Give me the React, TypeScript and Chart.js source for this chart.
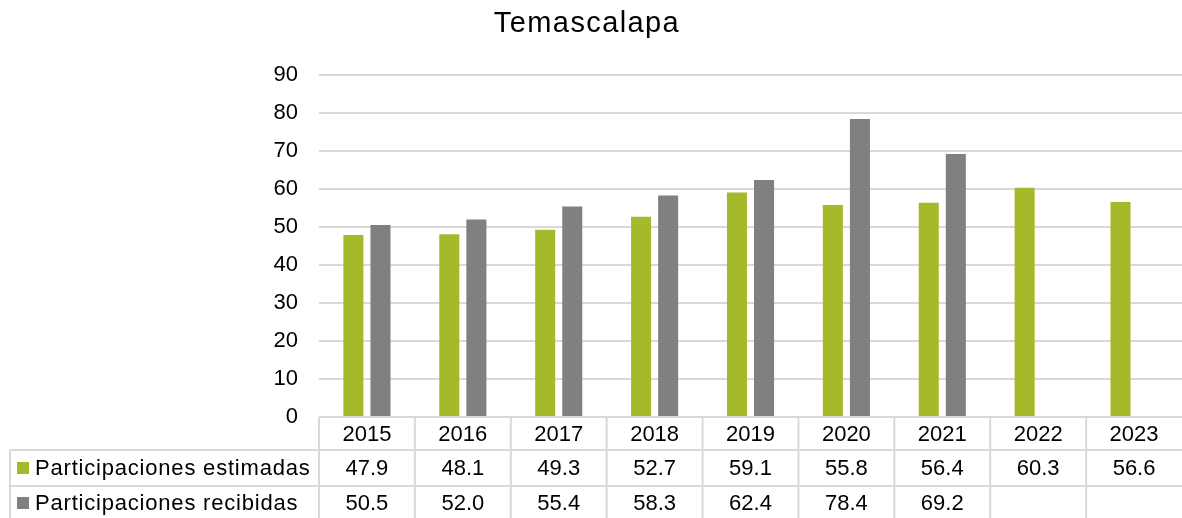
import React, { useEffect, useRef } from "react";
import { Chart, registerables } from "chart.js";

Chart.register(...registerables);

const categories = ["2015", "2016", "2017", "2018", "2019", "2020", "2021", "2022", "2023"];
const estimadas = [47.9, 48.1, 49.3, 52.7, 59.1, 55.8, 56.4, 60.3, 56.6];
const recibidas: (number | null)[] = [50.5, 52.0, 55.4, 58.3, 62.4, 78.4, 69.2, null, null];
const seriesNames = ["Participaciones estimadas", "Participaciones recibidas"];
const titleText = "Temascalapa";

const GREEN = "#A6B92B";
const GRAY = "#808080";
const LINE = "#D9D9D9";
const FONT = "'Liberation Sans', Arial, sans-serif";

const tablePlugin = {
  id: "dataTable",
  afterDraw(chart: any) {
    const ctx = chart.ctx as any;
    const x = chart.scales.x;
    const area = chart.chartArea;
    const n = categories.length;
    const colW = (area.right - area.left) / n;
    const top = area.bottom;
    const r1 = top + 33;
    const r2 = r1 + 36;
    const bottom = chart.height + 2;
    const tableLeft = 10;

    ctx.save();
    ctx.strokeStyle = LINE;
    ctx.lineWidth = 2;
    ctx.beginPath();
    ctx.moveTo(area.left, top);
    ctx.lineTo(area.right + 2, top);
    ctx.moveTo(tableLeft, r1);
    ctx.lineTo(area.right + 2, r1);
    ctx.moveTo(tableLeft, r2);
    ctx.lineTo(area.right + 2, r2);
    ctx.moveTo(tableLeft, r1);
    ctx.lineTo(tableLeft, bottom);
    for (let i = 0; i < n; i++) {
      const cx = x.getPixelForValue(i) - colW / 2;
      ctx.moveTo(cx, top);
      ctx.lineTo(cx, bottom);
    }
    ctx.stroke();

    ctx.fillStyle = "#000";
    ctx.font = `22px ${FONT}`;
    ctx.textAlign = "center";
    ctx.textBaseline = "middle";
    const yHead = (top + r1) / 2 + 1;
    const yR1 = (r1 + r2) / 2 + 1;
    const yR2 = (r2 + bottom) / 2 + 1;
    for (let i = 0; i < n; i++) {
      const cx = x.getPixelForValue(i);
      ctx.fillText(categories[i], cx, yHead);
      if (estimadas[i] != null) ctx.fillText(estimadas[i].toFixed(1), cx, yR1);
      const v = recibidas[i];
      if (v != null) ctx.fillText(v.toFixed(1), cx, yR2);
    }

    ctx.textAlign = "left";
    ctx.fillStyle = GREEN;
    ctx.fillRect(17, yR1 - 7, 12, 12);
    ctx.fillStyle = GRAY;
    ctx.fillRect(17, yR2 - 7, 12, 12);
    ctx.fillStyle = "#000";
    ctx.letterSpacing = "0.8px";
    ctx.fillText(seriesNames[0], 35, yR1);
    ctx.fillText(seriesNames[1], 35, yR2);

    ctx.textAlign = "center";
    ctx.font = `29px ${FONT}`;
    ctx.letterSpacing = "1.4px";
    ctx.fillText(titleText, 587, 24);
    ctx.letterSpacing = "0px";
    ctx.restore();
  },
};

export default function App() {
  const ref = useRef<HTMLCanvasElement | null>(null);

  useEffect(() => {
    document.body.style.margin = "0";
    if (!ref.current) return;
    const chart = new Chart(ref.current, {
      type: "bar",
      data: {
        labels: categories,
        datasets: [
          {
            label: seriesNames[0],
            data: estimadas,
            backgroundColor: GREEN,
            categoryPercentage: 0.565,
            barPercentage: 0.74,
          },
          {
            label: seriesNames[1],
            data: recibidas,
            backgroundColor: GRAY,
            categoryPercentage: 0.565,
            barPercentage: 0.74,
          },
        ],
      },
      options: {
        animation: false,
        responsive: false,
        maintainAspectRatio: false,
        layout: { padding: { left: 0, right: 0, top: 75, bottom: 101 } },
        plugins: {
          legend: { display: false },
          title: { display: false },
          tooltip: { enabled: false },
        },
        scales: {
          x: { display: false },
          y: {
            min: 0,
            max: 90,
            ticks: {
              stepSize: 10,
              padding: 21,
              color: "#000",
              font: { family: FONT, size: 22 },
            },
            grid: { color: LINE, lineWidth: 2, drawTicks: false },
            border: { display: false },
            afterFit(scale: any) {
              scale.width = 319;
            },
          },
        },
      },
      plugins: [tablePlugin],
    });
    return () => chart.destroy();
  }, []);

  return (
    <div style={{ position: "absolute", left: 0, top: 0, width: 1182, height: 518, background: "#fff" }}>
      <canvas ref={ref} width={1182} height={518} style={{ display: "block" }} />
    </div>
  );
}
